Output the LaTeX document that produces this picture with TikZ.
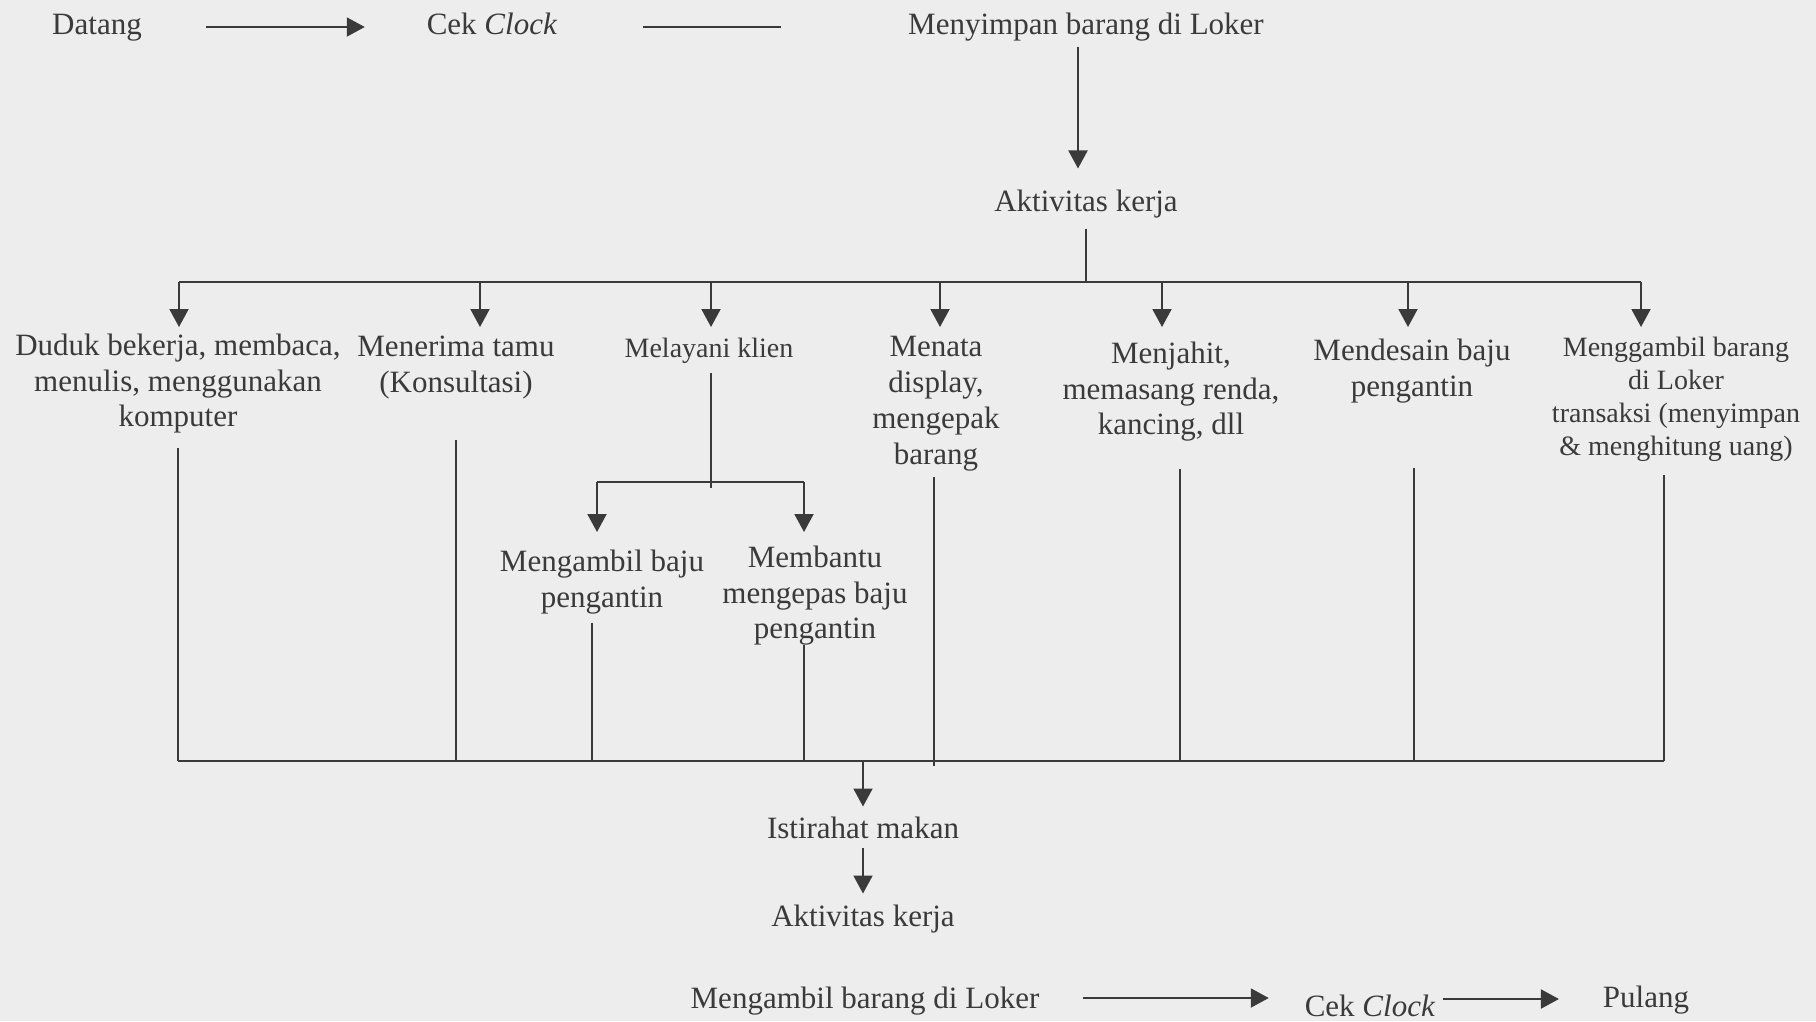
\documentclass[tikz,border=0pt]{standalone}
\usepackage{fontspec}
\setmainfont{Liberation Serif}
\usetikzlibrary{arrows.meta}
\definecolor{paper}{HTML}{EDEDED}
\definecolor{ink}{HTML}{3A3A3A}

\begin{document}
\begin{tikzpicture}[x=1pt,y=-1pt,
  lbl/.style={inner sep=0pt, outer sep=0pt, text=ink, align=center,
              font=\fontsize{31}{35.5}\selectfont},
  small/.style={font=\fontsize{28}{33}\selectfont},
  ln/.style={draw=ink, line width=2pt},
  arr/.style={ln, -{Triangle[length=18pt,width=19pt]}},
]
% sheet
\useasboundingbox (0,0) rectangle (1816,1021);
\fill[paper] (0,0) rectangle (1816,1021);

% ---- arrival row
\node[lbl, anchor=base] (datang) at (97,34) {Datang};
\node[lbl, anchor=base] (cekA) at (492,34) {Cek \textit{Clock}};
\node[lbl, anchor=base] (simpan) at (1086,34) {Menyimpan barang di Loker};
\node[lbl, anchor=base] (kerjaA) at (1086,211) {Aktivitas kerja};

\draw[arr] ([xshift=64pt,yshift=7pt]datang.base east) -- ([xshift=-62pt,yshift=7pt]cekA.base west);
\draw[ln] ([xshift=86pt,yshift=7pt]cekA.base east) -- ([xshift=-127pt,yshift=7pt]simpan.base west);
\draw[arr] ([xshift=-8pt,yshift=-6pt]simpan.south) -- ([xshift=-8pt,yshift=21pt]kerjaA.north);

% ---- work activities
\node[lbl, anchor=north] (duduk) at (178,334) {Duduk bekerja, membaca,\\menulis, menggunakan\\komputer};
\node[lbl, anchor=north] (tamu) at (456,336) {Menerima tamu\\(Konsultasi)};
\node[lbl, small, anchor=base] (klien) at (709,357) {Melayani klien};
\node[lbl, anchor=north, font=\fontsize{31}{36}\selectfont] (display) at (936,336.5) {Menata\\display,\\mengepak\\barang};
\node[lbl, anchor=north] (jahit) at (1171,342) {Menjahit,\\memasang renda,\\kancing, dll};
\node[lbl, anchor=north] (desain) at (1412,339) {Mendesain baju\\pengantin};
\node[lbl, small, anchor=north] (loker) at (1676,337) {Menggambil barang\\di Loker\\transaksi (menyimpan\\\& menghitung uang)};
\node[lbl, anchor=north] (ambilbaju) at (602,550) {Mengambil baju\\pengantin};
\node[lbl, anchor=north] (kepas) at (815,546) {Membantu\\mengepas baju\\pengantin};

% distribution bus below "Aktivitas kerja"
\coordinate (hub) at (1086,282);
\coordinate (d1) at (179,282);
\coordinate (d2) at (480,282);
\coordinate (d3) at (711,282);
\coordinate (d4) at (940,282);
\coordinate (d5) at (1162,282);
\coordinate (d6) at (1408,282);
\coordinate (d7) at (1641,282);
\draw[ln] ([yshift=-11pt]kerjaA.south) -- (hub);
\draw[ln] (d1) -- (d7);
\foreach \d in {d1,d2,d3,d4,d5,d6,d7}
  \draw[arr] (\d) -- ++(0,45);

% split under "Melayani klien"
\coordinate (s1) at (597,482);
\coordinate (s2) at (804,482);
\draw[ln] ([xshift=2pt,yshift=-10pt]klien.south) coordinate (k0) -- ([yshift=-6pt]k0 |- s1);
\draw[ln] (s1) -- (s2);
\draw[arr] (s1) -- ++(0,50);
\draw[arr] (s2) -- ++(0,50);

% collecting bus
\coordinate (b1) at (178,761);
\coordinate (b2) at (1664,761);
\coordinate (bm) at (863,761);
\draw[ln] ([yshift=-15pt]duduk.south) coordinate (t1) -- (t1 |- b1);
\draw[ln] ([yshift=-41pt]tamu.south) coordinate (t2) -- (t2 |- b1);
\draw[ln] ([xshift=-10pt,yshift=-9pt]ambilbaju.south) coordinate (t3) -- (t3 |- b1);
\draw[ln] ([xshift=-11pt,yshift=0pt]kepas.south) coordinate (t4) -- (t4 |- b1);
\draw[ln] ([xshift=-2pt,yshift=-6pt]display.south) coordinate (t5) -- ([yshift=-5pt]t5 |- b1);
\draw[ln] ([xshift=9pt,yshift=-28pt]jahit.south) coordinate (t6) -- (t6 |- b1);
\draw[ln] ([xshift=2pt,yshift=-65pt]desain.south) coordinate (t7) -- (t7 |- b1);
\draw[ln] ([xshift=-12pt,yshift=-14pt]loker.south) coordinate (t8) -- (t8 |- b1);
\draw[ln] (b1) -- (b2);

% ---- afternoon and leaving
\node[lbl, anchor=base] (makan) at (863,838) {Istirahat makan};
\node[lbl, anchor=base] (kerjaB) at (863,926) {Aktivitas kerja};
\node[lbl, anchor=base] (ambil) at (865,1008) {Mengambil barang di Loker};
\node[lbl, anchor=base] (cekB) at (1370,1016) {Cek \textit{Clock}};
\node[lbl, anchor=base] (pulang) at (1646,1007) {Pulang};

\draw[arr] (bm) -- ([yshift=10pt]makan.north);
\draw[arr] ([yshift=-10pt]makan.south) -- ([yshift=11pt]kerjaB.north);
\draw[arr] ([xshift=44pt,yshift=10pt]ambil.base east) -- ([xshift=-36pt,yshift=18pt]cekB.base west);
\draw[arr] ([xshift=8pt,yshift=17pt]cekB.base east) -- ([xshift=-44pt,yshift=8pt]pulang.base west);
\end{tikzpicture}
\end{document}
